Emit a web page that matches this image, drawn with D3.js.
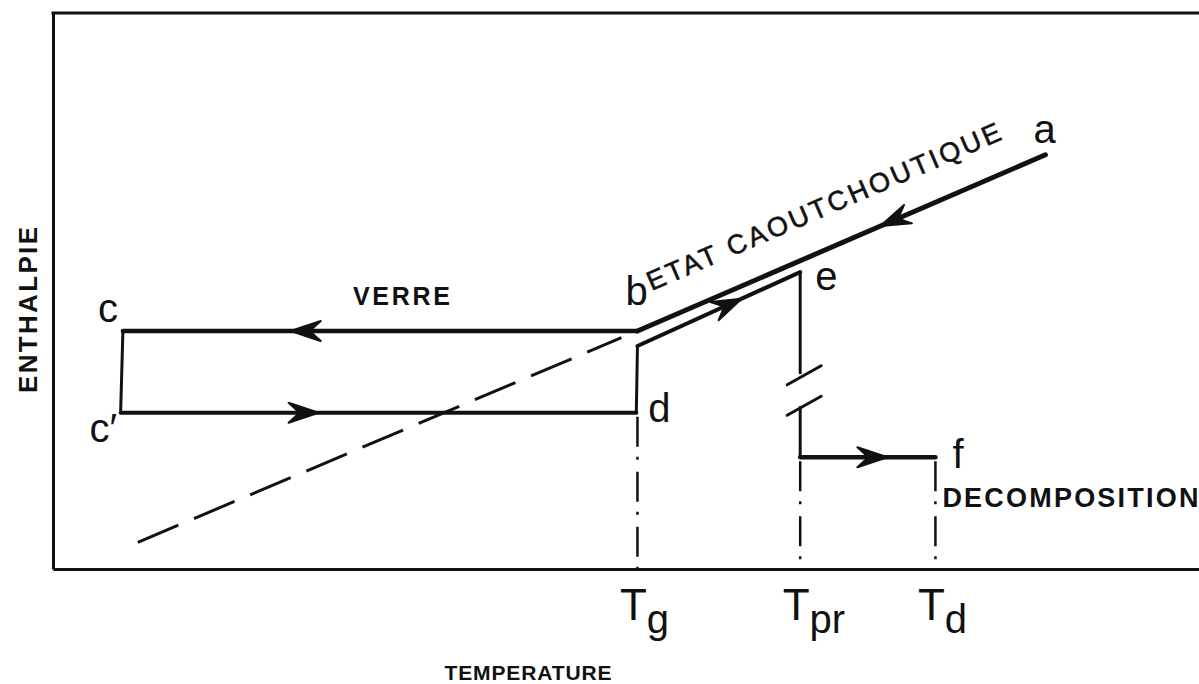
<!DOCTYPE html>
<html>
<head>
<meta charset="utf-8">
<script src="https://cdn.jsdelivr.net/npm/d3@7"></script>
<style>
  html, body { margin: 0; padding: 0; background: #fff; }
  svg { display: block; }
</style>
</head>
<body>
<svg id="chart" width="1199" height="684"></svg>
<script>
// Enthalpy vs temperature cycle: cooling along the rubbery line (a -> b),
// glass (b -> c), reheating (c' -> d -> e), then decomposition (f).

// Cycle vertices (temperature, enthalpy in arbitrary units)
const vertexNames = ["a", "b", "c", "c′", "d", "dUp", "e", "eCutTop", "eCutBottom", "eLow", "f"];
const vertexTemp  = [866, 510, 61, 59, 509, 510, 652, 652, 652, 652, 770];
const vertexEnth  = [74.5, 42.8, 42.8, 28.1, 28.1, 40.1, 53.4, 35.3, 29.1, 20.1, 20.1];

// Solid path segments [from, to, stroke width]
const segFrom  = ["a", "b", "c", "c′", "d", "dUp", "e", "eCutBottom", "eLow"];
const segTo    = ["b", "c", "c′", "d", "dUp", "e", "eCutTop", "eLow", "f"];
const segWidth = [5, 4.5, 3, 4, 3, 4, 3, 3, 4.5];

// Arrowheads placed along segments [from, to, fraction of the way]
const arrowFrom = ["a", "b", "c′", "dUp", "eLow"];
const arrowTo   = ["b", "c", "d", "e", "f"];
const arrowAt   = [0.40, 0.67, 0.38, 0.63, 0.63];

// Extrapolated liquid line below Tg (dashed)
const glassTemp = [74, 496];
const glassEnth = [4.8, 41.6];

// Characteristic temperatures on the x axis
const tickValues = [510, 652, 770];
const tickMain   = ["T", "T", "T"];
const tickSub    = ["g", "pr", "d"];
// Vertex each dash-dot drop line starts from
const dropFrom   = ["d", "eLow", "f"];

// Point labels drawn next to vertices
const labelNames = ["a", "b", "c", "c′", "d", "e", "f"];

const ink = "#111";
const plot = { left: 53, top: 13, right: 1199, bottom: 569 };

const x = d3.scaleLinear().domain([0, 1000]).range([plot.left, plot.right]);
const y = d3.scaleLinear().domain([0, 100]).range([plot.bottom, plot.top]);

const pts = {};
vertexNames.forEach((n, i) => { pts[n] = { t: vertexTemp[i], h: vertexEnth[i] }; });
const px = n => [x(pts[n].t), y(pts[n].h)];

const svg = d3.select("#chart");

// Frame: left and bottom come from axes, top edge drawn as a line
const xAxis = d3.axisBottom(x).tickValues(tickValues).tickSize(0).tickSizeOuter(0).tickFormat(() => "");
const yAxis = d3.axisLeft(y).tickValues([]).tickSizeOuter(0);

svg.append("g").attr("transform", `translate(0,${plot.bottom})`).call(xAxis)
  .call(g => g.select(".domain").attr("stroke", ink).attr("stroke-width", 3));
svg.append("g").attr("transform", `translate(${plot.left},0)`).call(yAxis)
  .call(g => g.select(".domain").attr("stroke", ink).attr("stroke-width", 3));
svg.append("line")
  .attr("x1", x(0) - 1.5).attr("x2", x(1000))
  .attr("y1", y(100)).attr("y2", y(100))
  .attr("stroke", ink).attr("stroke-width", 3);

// Tick labels T with subscript
svg.selectAll(".tick text").remove();
svg.selectAll(".tick").each(function (d, i) {
  const t = d3.select(this).append("text")
    .attr("x", -18).attr("y", 51)
    .attr("fill", ink)
    .attr("font-family", "'Liberation Sans Narrow', 'Liberation Sans', Arial, sans-serif")
    .attr("font-size", 44)
    .attr("text-anchor", "start");
  t.append("tspan").text(tickMain[i]);
  t.append("tspan").attr("dy", 13).attr("font-size", 40).attr("dx", 0).text(tickSub[i]);
});

// Dash-dot drop lines to the temperature axis
tickValues.forEach((v, i) => {
  const [, sy] = px(dropFrom[i]);
  svg.append("line")
    .attr("x1", x(v)).attr("x2", x(v))
    .attr("y1", sy + 4).attr("y2", y(0))
    .attr("stroke", ink).attr("stroke-width", 2.5)
    .attr("stroke-dasharray", "30,10,3,12");
});

// Dashed extrapolation of the rubbery line
svg.append("line")
  .attr("x1", x(glassTemp[0])).attr("y1", y(glassEnth[0]))
  .attr("x2", x(glassTemp[1])).attr("y2", y(glassEnth[1]))
  .attr("stroke", ink).attr("stroke-width", 3)
  .attr("stroke-dasharray", "44,17");

// Solid cycle segments
segFrom.forEach((f, i) => {
  const [x1, y1] = px(f), [x2, y2] = px(segTo[i]);
  svg.append("line")
    .attr("x1", x1).attr("y1", y1).attr("x2", x2).attr("y2", y2)
    .attr("stroke", ink).attr("stroke-width", segWidth[i])
    .attr("stroke-linecap", "round");
});

// Break marks on the vertical drop after e
[["eCutTop", 2], ["eCutBottom", -2]].forEach(([n, s]) => {
  const [cx, cy] = px(n);
  svg.append("line")
    .attr("x1", cx - 13).attr("y1", cy + 10 + s)
    .attr("x2", cx + 21).attr("y2", cy - 9 + s)
    .attr("stroke", ink).attr("stroke-width", 3)
    .attr("stroke-linecap", "round");
});

// Arrowheads
arrowFrom.forEach((f, i) => {
  const [x1, y1] = px(f), [x2, y2] = px(arrowTo[i]);
  const k = arrowAt[i];
  const tx = x1 + (x2 - x1) * k, ty = y1 + (y2 - y1) * k;
  const ang = Math.atan2(y2 - y1, x2 - x1) * 180 / Math.PI;
  svg.append("path")
    .attr("d", "M2,0 L-28,-10 L-17,0 L-28,10 Z")
    .attr("transform", `translate(${tx},${ty}) rotate(${ang})`)
    .attr("fill", ink).attr("stroke", ink).attr("stroke-width", 2)
    .attr("stroke-linejoin", "round");
});

// Vertex letters
const labelOffset = {
  "a": [-12, -12], "b": [-12, -26], "c": [-25, -9], "c′": [-31, 29],
  "d": [12, 9], "e": [15, 18], "f": [17, 11]
};
labelNames.forEach(n => {
  const [lx, ly] = px(n);
  svg.append("text")
    .attr("x", lx + labelOffset[n][0]).attr("y", ly + labelOffset[n][1])
    .attr("fill", ink)
    .attr("font-family", "'Liberation Sans', Arial, sans-serif")
    .attr("font-size", 40)
    .text(n);
});

// Region names
const sans = "'Liberation Sans', Arial, sans-serif";
const [bx, by] = px("b"), [ax, ay] = px("a");
const slope = Math.atan2(ay - by, ax - bx) * 180 / Math.PI;
svg.append("text")
  .attr("transform", `translate(${bx + 14},${by - 40}) rotate(${slope})`)
  .attr("fill", ink).attr("stroke", ink).attr("stroke-width", 0.6)
  .attr("font-family", sans)
  .attr("font-size", 27)
  .attr("textLength", 383).attr("lengthAdjust", "spacing")
  .text("ETAT CAOUTCHOUTIQUE");

const [cx0, cy0] = px("c");
svg.append("text")
  .attr("x", cx0 + 230).attr("y", cy0 - 26)
  .attr("fill", ink).attr("font-family", sans).attr("font-weight", "bold")
  .attr("font-size", 25).attr("textLength", 97).attr("lengthAdjust", "spacing")
  .text("VERRE");

const [fx, fy] = px("f");
svg.append("text")
  .attr("x", fx + 7).attr("y", fy + 50)
  .attr("fill", ink).attr("font-family", sans).attr("font-weight", "bold")
  .attr("font-size", 27).attr("textLength", 256).attr("lengthAdjust", "spacing")
  .text("DECOMPOSITION");

// Axis titles
svg.append("text")
  .attr("x", 528).attr("y", 680)
  .attr("text-anchor", "middle")
  .attr("fill", ink).attr("font-family", sans).attr("font-weight", "bold")
  .attr("font-size", 21).attr("textLength", 167).attr("lengthAdjust", "spacing")
  .text("TEMPERATURE");

svg.append("text")
  .attr("transform", `translate(37,310) rotate(-90)`)
  .attr("text-anchor", "middle")
  .attr("fill", ink).attr("font-family", sans).attr("font-weight", "bold")
  .attr("font-size", 26).attr("textLength", 166).attr("lengthAdjust", "spacing")
  .text("ENTHALPIE");
</script>
</body>
</html>
